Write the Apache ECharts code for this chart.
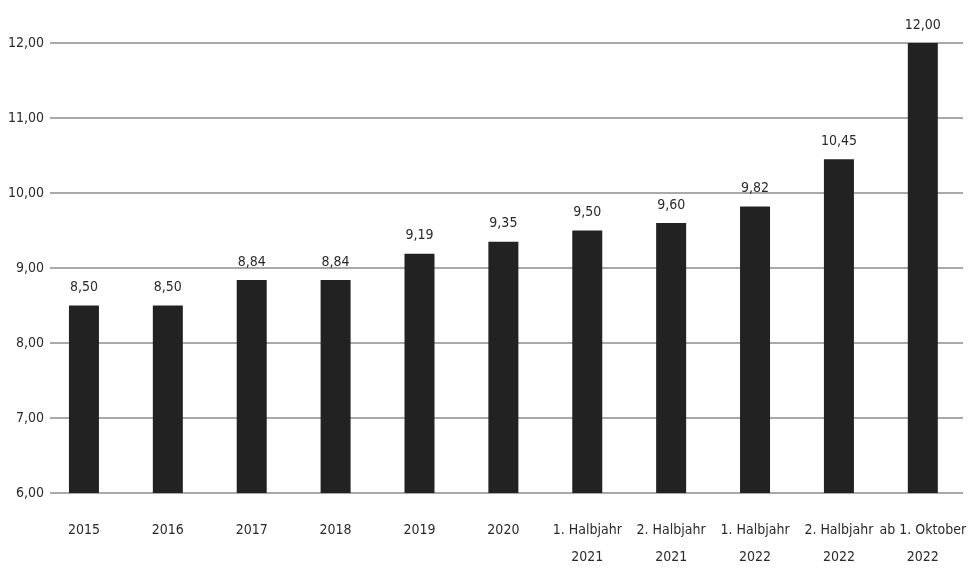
<!DOCTYPE html>
<html>
<head>
<meta charset="utf-8">
<script src="https://cdn.jsdelivr.net/npm/echarts@6/dist/echarts.min.js"></script>
<style>
  html, body { margin: 0; padding: 0; background: #fff; }
  #chart { width: 969px; height: 577px; }
</style>
</head>
<body>
<div id="chart"></div>
<script>
// Mindestlohn in Euro pro Stunde
const categories = [
  '2015', '2016', '2017', '2018', '2019', '2020',
  '1. Halbjahr\n2021', '2. Halbjahr\n2021', '1. Halbjahr\n2022',
  '2. Halbjahr\n2022', 'ab 1. Oktober\n2022'
];
const wages = [8.50, 8.50, 8.84, 8.84, 9.19, 9.35, 9.50, 9.60, 9.82, 10.45, 12.00];
const yTicks = { min: 6, max: 12, interval: 1 };

const fontFamily = '"DejaVu Sans Condensed", "Liberation Sans Narrow", "Open Sans", sans-serif';
const textColor = '#2a2a2a';
const fmt = v => Number(v).toFixed(2).replace('.', ',');

const chart = echarts.init(document.getElementById('chart'));
chart.setOption({
  animation: false,
  backgroundColor: '#ffffff',
  grid: [
    { left: 50, right: 6, top: 43, bottom: 84 },
    { left: 42, right: 3, top: 43, bottom: 84 }
  ],
  xAxis: [
    { type: 'category', gridIndex: 0, data: categories, show: false },
    {
      type: 'category', gridIndex: 1, data: categories,
      axisLine: { show: false },
      axisTick: { show: false },
      axisLabel: {
        color: textColor, fontSize: 14, fontFamily, margin: 24,
        lineHeight: 27, interval: 0
      }
    }
  ],
  yAxis: [
    {
      type: 'value', gridIndex: 0, ...yTicks,
      axisLine: { show: false },
      axisTick: { show: false },
      axisLabel: { color: textColor, fontSize: 14, fontFamily, margin: 6, formatter: fmt },
      splitLine: { lineStyle: { color: '#a9a9a9', width: 2 } }
    },
    {
      type: 'value', gridIndex: 1, ...yTicks, show: false,
      splitLine: { show: false }
    }
  ],
  series: [{
    type: 'bar',
    xAxisIndex: 1,
    yAxisIndex: 1,
    data: wages,
    barWidth: 30,
    itemStyle: { color: '#222222' },
    label: {
      show: true, position: 'top', distance: 11,
      color: textColor, fontSize: 14, fontFamily,
      formatter: p => fmt(p.value)
    }
  }]
});
</script>
</body>
</html>
